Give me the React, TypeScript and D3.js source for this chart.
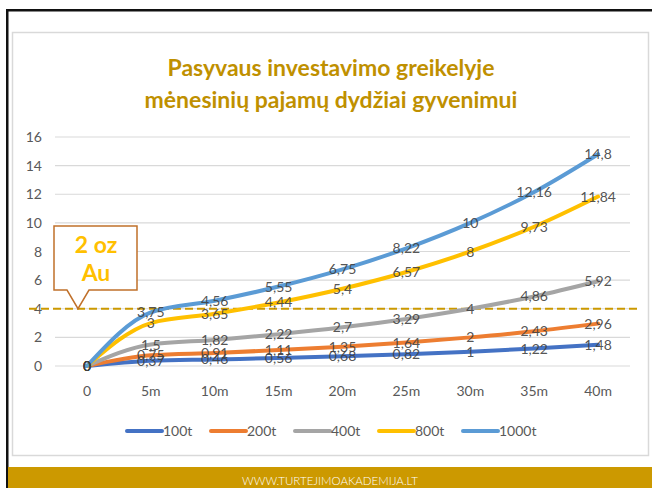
import React, { useEffect, useRef } from "react";
import * as d3 from "d3";

// chart values
const categories = ["0", "5m", "10m", "15m", "20m", "25m", "30m", "35m", "40m"];
const seriesNames = ["100t", "200t", "400t", "800t", "1000t"];
const s100 = [0, 0.37, 0.46, 0.56, 0.68, 0.82, 1, 1.22, 1.48];
const s200 = [0, 0.75, 0.91, 1.11, 1.35, 1.64, 2, 2.43, 2.96];
const s400 = [0, 1.5, 1.82, 2.22, 2.7, 3.29, 4, 4.86, 5.92];
const s800 = [0, 3, 3.65, 4.44, 5.4, 6.57, 8, 9.73, 11.84];
const s1000 = [0, 3.75, 4.56, 5.55, 6.75, 8.22, 10, 12.16, 14.8];
const yTicks = [0, 2, 4, 6, 8, 10, 12, 14, 16];
const goldLevel = 4;
const titleLines = ["Pasyvaus investavimo  greikelyje", "mėnesinių pajamų dydžiai gyvenimui"];
const calloutLines = ["2 oz", "Au"];
const footerText = "WWW.TURTEJIMOAKADEMIJA.LT";

const colors = ["#4472C4", "#ED7D31", "#A5A5A5", "#FFC000", "#5B9BD5"];
const FONT = "Lato, 'Open Sans', sans-serif";

export default function App() {
  const svgRef = useRef<SVGSVGElement>(null);

  useEffect(() => {
    const svg = d3.select(svgRef.current);
    svg.selectAll("*").remove();

    const W = 652;
    const H = 488;
    const margin = { top: 137, right: 22, bottom: 122, left: 55 };

    const series = [s100, s200, s400, s800, s1000];

    // slide frame
    svg.append("rect").attr("width", W).attr("height", H).attr("fill", "#fff");
    svg.append("rect").attr("x", 6).attr("y", 9).attr("width", W - 6).attr("height", 2.5).attr("fill", "#111");
    svg.append("rect").attr("x", 6).attr("y", 9).attr("width", 2.5).attr("height", H - 9).attr("fill", "#111");
    svg
      .append("rect")
      .attr("x", 12.5)
      .attr("y", 32.5)
      .attr("width", 636)
      .attr("height", 423)
      .attr("fill", "#fff")
      .attr("stroke", "#D9D9D9")
      .attr("stroke-width", 1.5);

    // footer band
    svg.append("rect").attr("x", 8).attr("y", 467).attr("width", W - 8).attr("height", H - 467).attr("fill", "#CC9900");
    svg
      .append("text")
      .attr("x", 330)
      .attr("y", 485)
      .attr("text-anchor", "middle")
      .attr("fill", "#fff")
      .attr("font-family", FONT)
      .attr("font-weight", 300)
      .attr("font-size", 11.5)
      .text(footerText);

    // title
    svg
      .append("g")
      .selectAll("text")
      .data(titleLines)
      .join("text")
      .attr("x", 331)
      .attr("y", (d, i) => 76 + i * 32)
      .attr("text-anchor", "middle")
      .attr("fill", "#BF9000")
      .attr("font-family", FONT)
      .attr("font-weight", "bold")
      .attr("font-size", 23)
      .text((d) => d);

    const x = d3
      .scaleBand()
      .domain(categories)
      .range([margin.left, W - margin.right]);
    const cx = (c: string) => (x(c) as number) + x.bandwidth() / 2;

    const y = d3
      .scaleLinear()
      .domain([0, 16])
      .range([H - margin.bottom, margin.top]);

    // grid + y labels
    svg
      .append("g")
      .selectAll("line")
      .data(yTicks)
      .join("line")
      .attr("x1", margin.left)
      .attr("x2", W - margin.right)
      .attr("y1", (d) => y(d))
      .attr("y2", (d) => y(d))
      .attr("stroke", "#D9D9D9")
      .attr("stroke-width", 1.2);

    svg
      .append("g")
      .selectAll("text")
      .data(yTicks)
      .join("text")
      .attr("x", 42)
      .attr("y", (d) => y(d) + 5)
      .attr("text-anchor", "end")
      .attr("fill", "#595959")
      .attr("font-family", FONT)
      .attr("font-size", 14)
      .text((d) => d);

    // x labels
    svg
      .append("g")
      .selectAll("text")
      .data(categories)
      .join("text")
      .attr("x", (d) => cx(d))
      .attr("y", 396)
      .attr("text-anchor", "middle")
      .attr("fill", "#595959")
      .attr("font-family", FONT)
      .attr("font-size", 14)
      .text((d) => d);

    // gold dashed line
    svg
      .append("line")
      .attr("x1", 29)
      .attr("x2", 639)
      .attr("y1", y(goldLevel))
      .attr("y2", y(goldLevel))
      .attr("stroke", "#CC9900")
      .attr("stroke-width", 2)
      .attr("stroke-dasharray", "8,4");

    // series lines
    const line = d3
      .line<number>()
      .x((d, i) => cx(categories[i]))
      .y((d) => y(d))
      .curve(d3.curveMonotoneX);

    series.forEach((s, k) => {
      svg
        .append("path")
        .datum(s)
        .attr("d", line)
        .attr("fill", "none")
        .attr("stroke", colors[k])
        .attr("stroke-width", 4)
        .attr("stroke-linecap", "round");
    });

    // data labels (centered on points)
    series.forEach((s) => {
      svg
        .append("g")
        .selectAll("text")
        .data(s)
        .join("text")
        .attr("x", (d, i) => cx(categories[i]))
        .attr("y", (d) => y(d) + 5)
        .attr("text-anchor", "middle")
        .attr("fill", "#404040")
        .attr("fill-opacity", 0.9)
        .attr("font-family", FONT)
        .attr("font-size", 14)
        .text((d) => String(d).replace(".", ","));
    });

    // callout
    const by = y(goldLevel);
    const callout = d3.path();
    callout.moveTo(54, 226);
    callout.lineTo(137, 226);
    callout.lineTo(137, 290);
    callout.lineTo(89, 290);
    callout.lineTo(78, by);
    callout.lineTo(67, 290);
    callout.lineTo(54, 290);
    callout.closePath();
    svg
      .append("path")
      .attr("d", callout.toString())
      .attr("fill", "#fff")
      .attr("stroke", "#C0702A")
      .attr("stroke-width", 1.5);
    svg
      .append("g")
      .selectAll("text")
      .data(calloutLines)
      .join("text")
      .attr("x", 96)
      .attr("y", (d, i) => 253 + i * 28)
      .attr("text-anchor", "middle")
      .attr("fill", "#FFC000")
      .attr("font-family", FONT)
      .attr("font-weight", "bold")
      .attr("font-size", 23)
      .text((d) => d);

    // legend
    const legendX = [127, 211, 295, 379, 463];
    const lg = svg
      .append("g")
      .selectAll("g")
      .data(seriesNames)
      .join("g")
      .attr("transform", (d, i) => `translate(${legendX[i]},431)`);
    lg.append("line")
      .attr("x1", 0)
      .attr("x2", 35)
      .attr("stroke", (d, i) => colors[i])
      .attr("stroke-width", 4)
      .attr("stroke-linecap", "round");
    lg.append("text")
      .attr("x", 36)
      .attr("y", 5)
      .attr("fill", "#595959")
      .attr("font-family", FONT)
      .attr("font-size", 14)
      .text((d) => d);
  }, []);

  return (
    <svg
      ref={svgRef}
      width={652}
      height={488}
      style={{ position: "absolute", left: 0, top: 0 }}
    />
  );
}
